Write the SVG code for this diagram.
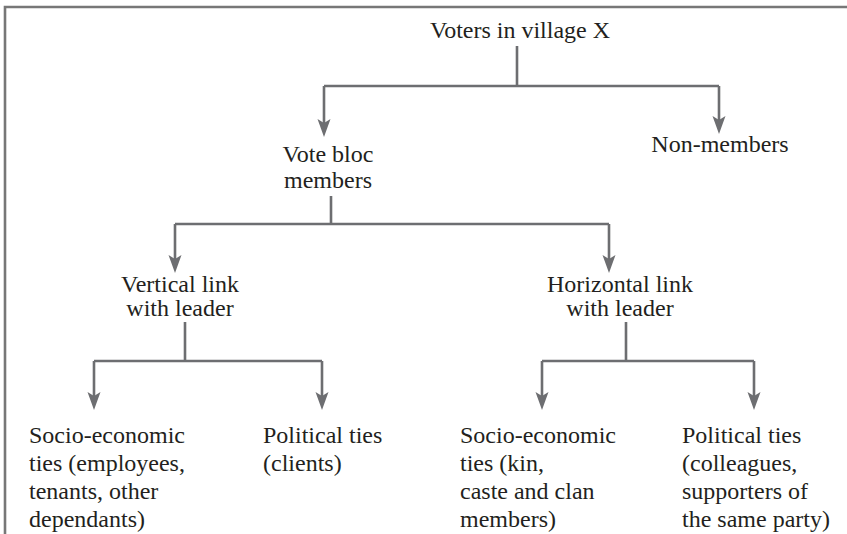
<svg xmlns="http://www.w3.org/2000/svg" width="847" height="534" viewBox="0 0 847 534">
  <style>
    text { font-family: 'Liberation Serif', 'DejaVu Serif', 'Times New Roman', Times, serif; font-size: 24px; fill: #231f20; }
    .c { text-anchor: middle; }
    .frame { fill: none; stroke: #777777; stroke-width: 2.6; }
    .ln { fill: none; stroke: #6d6e71; stroke-width: 2.6; }
  </style>
  <rect width="847" height="534" fill="#ffffff"/>

  <!-- frame: top and left rules -->
  <path class="frame" d="M5,534 V7 H847"/>

  <g id="connectors">
    <path class="ln" d="M517,46 V86 M324,86 H719"/>
    <path class="ln" d="M331,196 V224 M175,224 H609"/>
    <path class="ln" d="M185,322 V361 M94,361 H322"/>
    <path class="ln" d="M626,322 V361 M542,361 H754"/>
    <!-- arrow shafts -->
    <path class="ln" d="M324,86 V124 M719,86 V121 M175,224 V260 M609,224 V260 M94,361 V397 M322,361 V397 M542,361 V397 M754,361 V397"/>
    <!-- arrowheads -->
    <g fill="#6d6e71">
      <path d="M317.5,119 L324,123 L330.5,119 L324,137 Z"/>
      <path d="M712.5,116 L719,120 L725.5,116 L719,134 Z"/>
      <path d="M168.5,255 L175,259 L181.5,255 L175,273 Z"/>
      <path d="M602.5,255 L609,259 L615.5,255 L609,273 Z"/>
      <path d="M87.5,392 L94,396 L100.5,392 L94,410 Z"/>
      <path d="M315.5,392 L322,396 L328.5,392 L322,410 Z"/>
      <path d="M535.5,392 L542,396 L548.5,392 L542,410 Z"/>
      <path d="M747.5,392 L754,396 L760.5,392 L754,410 Z"/>
    </g>
  </g>

  <g font-family="Liberation Serif, DejaVu Serif, serif">
    <g id="voters">
      <text class="c" x="520" y="38">Voters in village X</text>
    </g>
    <g id="vote-bloc">
      <text class="c" x="328" y="162">Vote bloc</text>
      <text class="c" x="328" y="188">members</text>
    </g>
    <g id="non-members">
      <text class="c" x="720" y="152">Non-members</text>
    </g>
    <g id="vertical-link">
      <text class="c" x="180" y="292">Vertical link</text>
      <text class="c" x="180" y="316">with leader</text>
    </g>
    <g id="horizontal-link">
      <text class="c" x="620" y="292">Horizontal link</text>
      <text class="c" x="620" y="316">with leader</text>
    </g>
    <g id="vertical-socio">
      <text x="29" y="443">Socio-economic</text>
      <text x="29" y="471">ties (employees,</text>
      <text x="29" y="499">tenants, other</text>
      <text x="29" y="527">dependants)</text>
    </g>
    <g id="vertical-political">
      <text x="263" y="443">Political ties</text>
      <text x="263" y="471">(clients)</text>
    </g>
    <g id="horizontal-socio">
      <text x="460" y="443">Socio-economic</text>
      <text x="460" y="471">ties (kin,</text>
      <text x="460" y="499">caste and clan</text>
      <text x="460" y="527">members)</text>
    </g>
    <g id="horizontal-political">
      <text x="682" y="443">Political ties</text>
      <text x="682" y="471">(colleagues,</text>
      <text x="682" y="499">supporters of</text>
      <text x="682" y="527">the same party)</text>
    </g>
  </g>
</svg>
